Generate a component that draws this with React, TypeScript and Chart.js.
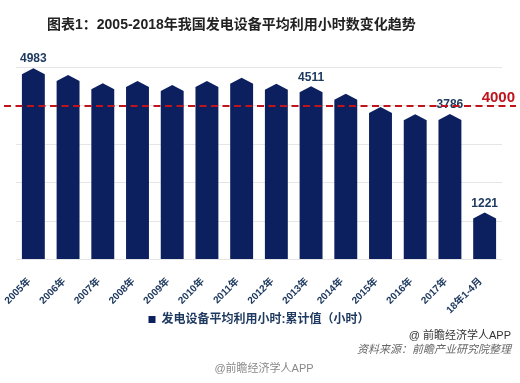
import React, { useEffect, useRef } from "react";
import { Chart, registerables } from "chart.js";

Chart.register(...registerables);

const titleText = "图表1：2005-2018年我国发电设备平均利用小时数变化趋势";
const seriesName = "发电设备平均利用小时:累计值（小时）";
const categories = [
  "2005年", "2006年", "2007年", "2008年", "2009年", "2010年", "2011年",
  "2012年", "2013年", "2014年", "2015年", "2016年", "2017年", "18年1-4月",
];
const hours = [4983, 4807, 4591, 4648, 4546, 4650, 4730, 4579, 4511, 4318, 3969, 3785, 3786, 1221];
const labeledIndices = [0, 8, 12, 13];
const referenceValue = 4000;
const yMin = 0;
const yMax = 5000;
const yStep = 1000;
const footerCredit = "@ 前瞻经济学人APP";
const footerSource = "资料来源：前瞻产业研究院整理";
const footerBottom = "@前瞻经济学人APP";

const BAR_COLOR = "#0c2060";
const LABEL_COLOR = "#1f3a60";
const RED = "#c0141c";
const FONT = '"Liberation Sans", "Noto Sans CJK SC", sans-serif';

export default function App() {
  const canvasRef = useRef<HTMLCanvasElement | null>(null);

  useEffect(() => {
    document.body.style.margin = "0";
    const canvas = canvasRef.current;
    if (!canvas) return;

    const pentagonBars = {
      id: "pentagonBars",
      beforeDatasetDraw(chart: any, args: any) {
        const c = chart.ctx;
        c.save();
        c.fillStyle = BAR_COLOR;
        args.meta.data.forEach((bar: any) => {
          const { x, y, base, width } = bar.getProps(["x", "y", "base", "width"], true);
          const tip = Math.min(6, (base - y) / 2);
          c.beginPath();
          c.moveTo(x - width / 2, base);
          c.lineTo(x - width / 2, y + tip);
          c.lineTo(x, y);
          c.lineTo(x + width / 2, y + tip);
          c.lineTo(x + width / 2, base);
          c.closePath();
          c.fill();
        });
        c.restore();
        return false;
      },
    };

    const overlay = {
      id: "overlay",
      afterDatasetsDraw(chart: any) {
        const c = chart.ctx;
        const meta = chart.getDatasetMeta(0);
        c.save();
        c.font = `bold 12px ${FONT}`;
        c.fillStyle = LABEL_COLOR;
        c.textAlign = "center";
        c.textBaseline = "middle";
        labeledIndices.forEach((i) => {
          const bar = meta.data[i];
          c.fillText(String(hours[i]), bar.x, bar.y - 9);
        });
        const yRef = chart.scales.y.getPixelForValue(referenceValue);
        c.strokeStyle = RED;
        c.lineWidth = 2;
        c.setLineDash([7, 4.5]);
        c.beginPath();
        c.moveTo(4, yRef);
        c.lineTo(516, yRef);
        c.stroke();
        c.setLineDash([]);
        c.font = `bold 15px ${FONT}`;
        c.fillStyle = RED;
        c.textAlign = "right";
        c.fillText(String(referenceValue), 515, yRef - 8);
        c.restore();
      },
    };

    const chart = new Chart(canvas, {
      type: "bar",
      data: {
        labels: categories,
        datasets: [
          {
            label: seriesName,
            data: hours,
            backgroundColor: BAR_COLOR,
            borderWidth: 0,
            categoryPercentage: 1,
            barPercentage: 0.66,
          },
        ],
      },
      options: {
        animation: false,
        responsive: false,
        devicePixelRatio: 1,
        layout: { padding: { top: 67.5, left: 16, right: 18, bottom: 47.5 } },
        plugins: {
          tooltip: { enabled: false },
          legend: {
            position: "bottom",
            labels: {
              boxWidth: 7,
              boxHeight: 7,
              color: LABEL_COLOR,
              font: { family: FONT, size: 12, weight: "bold" },
              padding: 4,
            },
          },
        },
        scales: {
          x: {
            grid: { display: false },
            border: { display: false },
            ticks: {
              minRotation: 45,
              maxRotation: 45,
              color: LABEL_COLOR,
              font: { family: FONT, size: 10, weight: "bold" },
              padding: 8,
              labelOffset: -4,
              autoSkip: false,
            },
            afterFit: (s: any) => {
              s.height = 50;
              s._computeLabelArea = () => undefined;
            },
          },
          y: {
            min: yMin,
            max: yMax,
            ticks: { display: false, stepSize: yStep },
            border: { display: false },
            grid: { color: "#e6e6e6", lineWidth: 1, drawTicks: false },
            afterFit: (s: any) => {
              s.width = 0;
            },
          },
        },
      },
      plugins: [pentagonBars, overlay],
    });

    return () => chart.destroy();
  }, []);

  const textBase: React.CSSProperties = {
    position: "absolute",
    fontFamily: FONT,
    whiteSpace: "nowrap",
  };

  return (
    <div style={{ position: "relative", width: 520, height: 383, background: "#fff", overflow: "hidden" }}>
      <canvas ref={canvasRef} width={520} height={383} style={{ position: "absolute", left: 0, top: 0 }} />
      <div style={{ ...textBase, left: 47, top: 14, fontSize: 14, lineHeight: "20px", fontWeight: "bold", color: "#222" }}>
        {titleText}
      </div>
      <div style={{ ...textBase, right: 9, top: 327, fontSize: 11, lineHeight: "16px", color: "#333" }}>
        {footerCredit}
      </div>
      <div style={{ ...textBase, right: 9, top: 341, fontSize: 11, lineHeight: "16px", color: "#666", fontStyle: "italic" }}>
        {footerSource}
      </div>
      <div style={{ ...textBase, left: 0, width: 528, textAlign: "center", top: 360, fontSize: 11, lineHeight: "16px", color: "#888" }}>
        {footerBottom}
      </div>
    </div>
  );
}
